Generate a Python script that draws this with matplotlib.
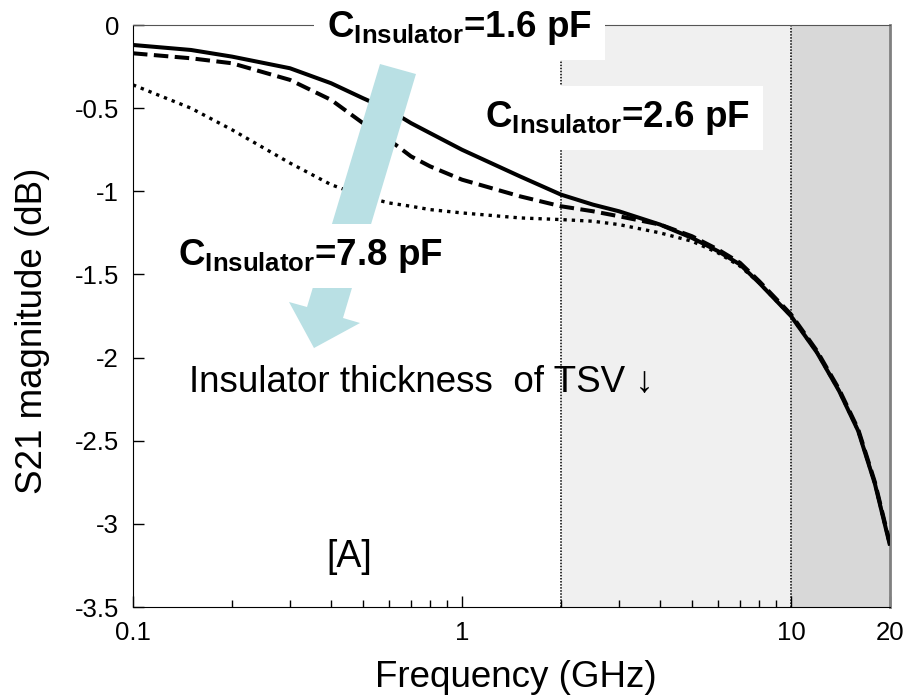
import numpy as np
import matplotlib
matplotlib.use("Agg")
import matplotlib.pyplot as plt
from matplotlib.patches import Polygon
from matplotlib import font_manager

plt.rcParams['font.family'] = ['Liberation Sans', 'DejaVu Sans']
plt.rcParams['mathtext.fontset'] = 'custom'
plt.rcParams['mathtext.bf'] = 'Liberation Sans:bold'
plt.rcParams['mathtext.rm'] = 'Liberation Sans'

# axis titles in the original use a narrow face; fall back if it is missing
names = {f.name for f in font_manager.fontManager.ttflist}
if 'Liberation Sans Narrow' in names:
    label_family, label_size = ['Liberation Sans Narrow', 'DejaVu Sans'], 31
else:
    label_family, label_size = ['Liberation Sans', 'DejaVu Sans'], 26.5

# frequency points (GHz) and S21 (dB)
freq = [0.1, 0.15, 0.2, 0.3, 0.4, 0.5, 0.6, 0.7, 0.8, 1.0, 1.5, 2.0, 2.5,
        3.0, 4.0, 5.0, 6.0, 7.0, 8.0, 10.0, 12.0, 14.0, 16.0, 18.0, 20.0]
s21_1p6 = [-0.12, -0.15, -0.19, -0.26, -0.35, -0.44, -0.51, -0.59, -0.65, -0.75,
           -0.91, -1.02, -1.08, -1.12, -1.20, -1.28, -1.36, -1.44, -1.55, -1.75,
           -1.97, -2.20, -2.44, -2.76, -3.13]
s21_2p6 = [-0.17, -0.20, -0.23, -0.33, -0.45, -0.59, -0.69, -0.79, -0.85, -0.93,
           -1.03, -1.09, -1.12, -1.15, -1.20, -1.27, -1.35, -1.43, -1.54, -1.74,
           -1.96, -2.19, -2.43, -2.75, -3.12]
s21_7p8 = [-0.36, -0.50, -0.63, -0.83, -0.96, -1.03, -1.07, -1.09, -1.11, -1.13,
           -1.16, -1.17, -1.18, -1.20, -1.25, -1.30, -1.37, -1.45, -1.55, -1.75,
           -1.97, -2.20, -2.44, -2.76, -3.13]

band_edges = [2.0, 10.0, 20.0]
band_colors = ['#f0f0f0', '#d8d8d8']

xticks = [0.1, 1, 10, 20]
xticklabels = ['0.1', '1', '10', '20']
yticks = [0, -0.5, -1, -1.5, -2, -2.5, -3, -3.5]
yticklabels = ['0', '-0.5', '-1', '-1.5', '-2', '-2.5', '-3', '-3.5']

fig = plt.figure(figsize=(9.09, 6.97), dpi=100)
ax = fig.add_axes([0.1463, 0.1291, 0.8328, 0.835])

for i in range(2):
    ax.axvspan(band_edges[i], band_edges[i + 1], color=band_colors[i], lw=0, zorder=0)
for xe in band_edges[:2]:
    ax.axvline(xe, color='black', lw=1.1, ls=(0, (1, 1)), zorder=1)

ax.plot(freq, s21_1p6, color='black', lw=2.9, solid_capstyle='butt', zorder=3)
ax.plot(freq, s21_2p6, color='black', lw=2.9, dashes=(3.6, 1.6), zorder=3)
ax.plot(freq, s21_7p8, color='black', lw=2.4, dashes=(1, 1.5), zorder=3)

ax.set_xscale('log')
ax.set_xlim(0.1, 20)
ax.set_ylim(-3.5, 0)
ax.set_xticks(xticks)
ax.set_xticklabels(xticklabels)
ax.set_yticks(yticks)
ax.set_yticklabels(yticklabels)
ax.tick_params(axis='both', which='major', direction='in', length=8, width=1,
               labelsize=18.5, pad=10)
ax.tick_params(axis='x', which='minor', direction='in', length=5, width=1)
ax.tick_params(axis='y', which='minor', left=False)

ax.text(0.506, -0.1375, 'Frequency (GHz)', transform=ax.transAxes, family=label_family,
        fontsize=label_size, ha='center', va='baseline', clip_on=False)
ax.text(-0.1334, 0.474, 'S21 magnitude (dB)', transform=ax.transAxes, family=label_family,
        fontsize=label_size, ha='center', va='center', rotation=90, clip_on=False)

ax.spines['right'].set_color('#808080')
ax.spines['right'].set_linewidth(2)
ax.spines['top'].set_color('#555555')

# big cyan arrow (decoration)
arrow = Polygon([(0.3263, 0.9330), (0.3738, 0.9158), (0.2774, 0.4966),
                 (0.2999, 0.4880), (0.2391, 0.4450), (0.2061, 0.5241),
                 (0.2299, 0.5155)], closed=True, transform=ax.transAxes,
                facecolor='#b9e0e4', edgecolor='none', zorder=4)
ax.add_patch(arrow)

box = dict(boxstyle='square,pad=0.35', facecolor='white', edgecolor='none')
ax.text(0.2563, 0.9794, r'$\mathbf{C_{Insulator}}$=1.6 pF', transform=ax.transAxes,
        fontsize=26.5, fontweight='bold', va='baseline', ha='left', bbox=box,
        zorder=6, clip_on=False)
ax.text(0.465, 0.8247, r'$\mathbf{C_{Insulator}}$=2.6 pF', transform=ax.transAxes,
        fontsize=26.5, fontweight='bold', va='baseline', ha='left', bbox=box, zorder=6)
ax.text(0.0594, 0.5876, r'$\mathbf{C_{Insulator}}$=7.8 pF', transform=ax.transAxes,
        fontsize=26.5, fontweight='bold', va='baseline', ha='left', bbox=box, zorder=6)
ax.text(0.074, 0.3694, 'Insulator thickness  of TSV \u2193', transform=ax.transAxes,
        fontsize=26.5, va='baseline', ha='left', zorder=6)
ax.text(0.255, 0.0687, '[A]', transform=ax.transAxes,
        fontsize=27, va='baseline', ha='left', zorder=6)

fig.savefig('out.png', dpi=100)
